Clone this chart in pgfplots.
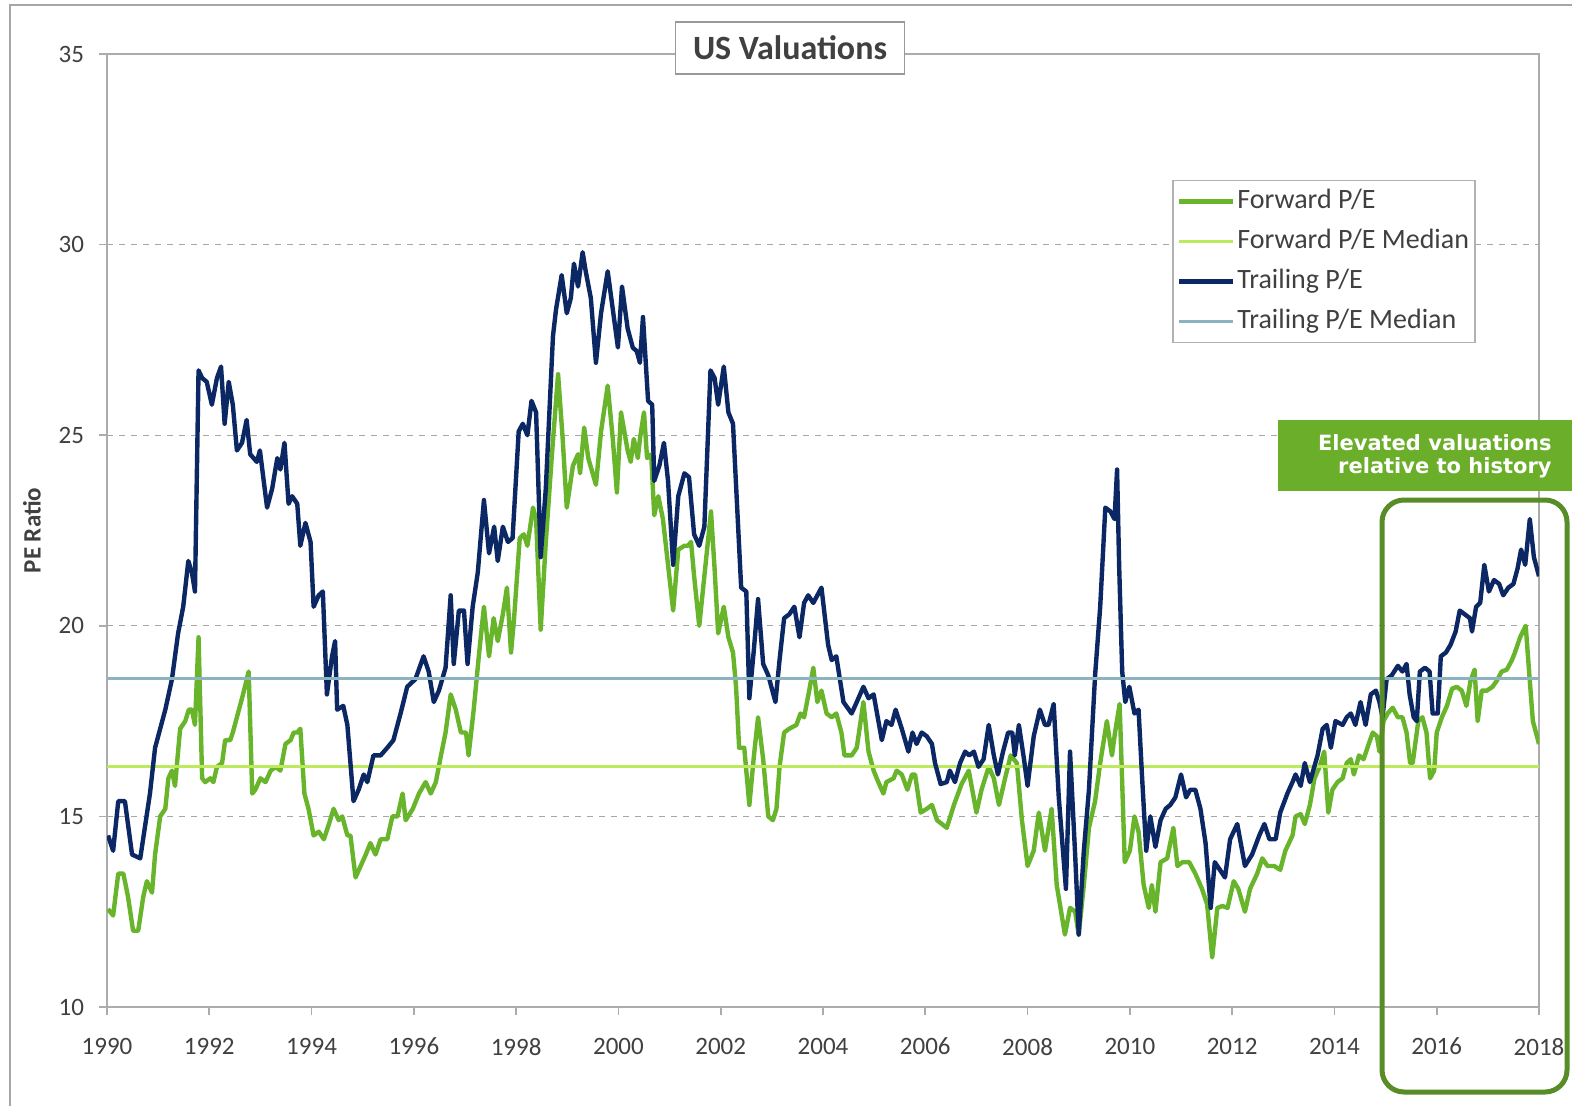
\documentclass[border=0pt]{standalone}
\usepackage{pgfplots}
\pgfplotsset{compat=1.18}
\usepackage{pgfplotstable}
\usepackage{fontspec}
\setmainfont{Carlito}
\newfontfamily\verd{DejaVu Sans}
\definecolor{fwd}{RGB}{104,180,42}
\definecolor{fwdmed}{RGB}{188,234,92}
\definecolor{trail}{RGB}{12,40,100}
\definecolor{trailmed}{RGB}{140,180,192}
\definecolor{annot}{RGB}{106,174,42}
\definecolor{frame}{RGB}{88,140,38}
\definecolor{txt}{RGB}{64,64,64}

\pgfplotstableread{
x y
1990.02 14.5
1990.12 14.1
1990.22 15.4
1990.35 15.4
1990.49 14.0
1990.65 13.9
1990.84 15.6
1990.94 16.8
1991.14 17.8
1991.27 18.6
1991.39 19.8
1991.49 20.5
1991.59 21.7
1991.66 21.4
1991.72 20.9
1991.79 26.7
1991.86 26.5
1991.95 26.4
1992.05 25.8
1992.15 26.5
1992.23 26.8
1992.30 25.3
1992.38 26.4
1992.46 25.8
1992.54 24.6
1992.64 24.8
1992.73 25.4
1992.80 24.5
1992.93 24.3
1992.99 24.6
1993.13 23.1
1993.23 23.6
1993.33 24.4
1993.39 24.1
1993.47 24.8
1993.55 23.2
1993.62 23.4
1993.72 23.2
1993.78 22.1
1993.88 22.7
1993.98 22.2
1994.04 20.5
1994.14 20.8
1994.22 20.9
1994.30 18.2
1994.40 19.2
1994.46 19.6
1994.50 17.8
1994.62 17.9
1994.70 17.4
1994.82 15.4
1994.92 15.7
1995.02 16.1
1995.09 15.9
1995.21 16.6
1995.35 16.6
1995.48 16.8
1995.60 17.0
1995.74 17.7
1995.87 18.4
1996.03 18.6
1996.19 19.2
1996.29 18.8
1996.39 18.0
1996.49 18.3
1996.62 18.9
1996.72 20.8
1996.78 19.0
1996.88 20.4
1996.98 20.4
1997.05 19.0
1997.15 20.5
1997.25 21.4
1997.37 23.3
1997.47 21.9
1997.57 22.6
1997.64 21.7
1997.74 22.6
1997.84 22.2
1997.93 22.3
1998.05 25.1
1998.13 25.3
1998.22 25.0
1998.30 25.9
1998.39 25.6
1998.48 21.8
1998.58 23.6
1998.72 27.6
1998.78 28.3
1998.89 29.2
1998.99 28.2
1999.07 28.6
1999.13 29.5
1999.21 28.9
1999.30 29.8
1999.36 29.3
1999.46 28.6
1999.56 26.9
1999.66 28.2
1999.79 29.3
1999.89 28.3
1999.99 27.3
2000.07 28.9
2000.18 27.8
2000.28 27.3
2000.36 27.2
2000.42 26.9
2000.48 28.1
2000.58 25.9
2000.66 25.8
2000.70 23.8
2000.80 24.2
2000.89 24.8
2000.97 23.8
2001.07 21.6
2001.17 23.4
2001.29 24.0
2001.38 23.9
2001.48 22.4
2001.58 22.1
2001.68 22.6
2001.80 26.7
2001.88 26.5
2001.95 25.8
2002.06 26.8
2002.15 25.6
2002.24 25.3
2002.40 21.0
2002.50 20.9
2002.56 18.1
2002.65 19.4
2002.73 20.7
2002.83 19.0
2002.93 18.7
2003.07 18.0
2003.15 19.1
2003.24 20.2
2003.34 20.3
2003.44 20.5
2003.54 19.7
2003.63 20.6
2003.71 20.8
2003.81 20.6
2003.97 21.0
2004.10 19.5
2004.17 19.1
2004.26 19.2
2004.40 18.0
2004.56 17.7
2004.66 18.0
2004.79 18.4
2004.89 18.1
2004.99 18.2
2005.15 17.0
2005.24 17.5
2005.34 17.4
2005.42 17.8
2005.54 17.3
2005.67 16.7
2005.75 17.2
2005.83 16.9
2005.93 17.2
2006.03 17.1
2006.13 16.9
2006.19 16.4
2006.30 15.85
2006.42 15.9
2006.48 16.2
2006.58 15.9
2006.68 16.4
2006.78 16.7
2006.86 16.6
2006.95 16.7
2007.04 16.3
2007.14 16.5
2007.24 17.4
2007.34 16.6
2007.42 16.1
2007.52 16.7
2007.62 17.2
2007.70 17.2
2007.75 16.6
2007.83 17.4
2007.93 16.5
2008.00 15.8
2008.12 17.1
2008.24 17.8
2008.34 17.4
2008.41 17.4
2008.51 17.95
2008.61 15.5
2008.75 13.1
2008.83 16.7
2008.93 14.0
2009.00 11.9
2009.10 14.1
2009.20 15.7
2009.32 18.7
2009.42 20.5
2009.52 23.1
2009.62 23.0
2009.70 22.8
2009.75 24.1
2009.79 21.6
2009.85 18.8
2009.91 18.0
2009.99 18.4
2010.09 17.7
2010.17 17.8
2010.24 16.0
2010.32 14.1
2010.40 15.0
2010.50 14.2
2010.60 14.9
2010.70 15.2
2010.79 15.3
2010.89 15.5
2011.00 16.1
2011.10 15.5
2011.18 15.7
2011.28 15.7
2011.38 15.2
2011.48 14.3
2011.58 12.6
2011.66 13.8
2011.76 13.6
2011.86 13.4
2011.96 14.4
2012.10 14.8
2012.25 13.7
2012.39 14.0
2012.53 14.5
2012.63 14.8
2012.73 14.4
2012.85 14.4
2012.94 15.1
2013.08 15.6
2013.18 15.9
2013.24 16.1
2013.34 15.8
2013.42 16.4
2013.52 15.9
2013.67 16.6
2013.77 17.3
2013.85 17.4
2013.93 16.8
2014.02 17.5
2014.16 17.4
2014.24 17.6
2014.32 17.7
2014.41 17.4
2014.51 18.0
2014.61 17.4
2014.71 18.2
2014.81 18.3
2014.88 18.0
2014.94 17.6
2015.02 18.6
2015.12 18.7
2015.24 18.95
2015.33 18.8
2015.41 19.0
2015.47 18.2
2015.55 17.6
2015.61 17.5
2015.67 18.8
2015.77 18.9
2015.86 18.8
2015.92 17.7
2016.02 17.7
2016.08 19.2
2016.18 19.3
2016.27 19.5
2016.37 19.85
2016.45 20.4
2016.55 20.3
2016.65 20.2
2016.69 19.85
2016.77 20.5
2016.85 20.6
2016.93 21.6
2017.02 20.9
2017.12 21.2
2017.22 21.1
2017.30 20.8
2017.40 21.0
2017.50 21.1
2017.58 21.5
2017.65 22.0
2017.73 21.6
2017.82 22.8
2017.90 21.8
2018.00 21.3
}\trailing

\pgfplotstableread{
x y
1990.02 12.57
1990.12 12.4
1990.22 13.5
1990.32 13.5
1990.41 12.9
1990.51 12.0
1990.61 12.0
1990.71 12.9
1990.78 13.3
1990.88 13.0
1990.94 14.0
1991.04 15.0
1991.14 15.2
1991.20 16.0
1991.27 16.2
1991.33 15.8
1991.43 17.3
1991.53 17.5
1991.60 17.8
1991.66 17.8
1991.72 17.4
1991.79 19.7
1991.86 16.0
1991.92 15.9
1992.02 16.0
1992.08 15.9
1992.15 16.3
1992.25 16.4
1992.31 17.0
1992.41 17.0
1992.46 17.2
1992.56 17.7
1992.66 18.2
1992.77 18.8
1992.84 15.6
1992.90 15.7
1993.00 16.0
1993.10 15.9
1993.20 16.2
1993.30 16.3
1993.39 16.2
1993.49 16.9
1993.59 17.0
1993.65 17.2
1993.72 17.2
1993.78 17.3
1993.86 15.6
1993.94 15.2
1994.04 14.5
1994.14 14.6
1994.24 14.4
1994.34 14.8
1994.43 15.2
1994.53 14.9
1994.60 15.0
1994.70 14.5
1994.76 14.5
1994.86 13.4
1994.96 13.7
1995.06 14.0
1995.15 14.3
1995.25 14.0
1995.35 14.4
1995.48 14.4
1995.58 15.0
1995.68 15.0
1995.78 15.6
1995.84 14.9
1995.98 15.2
1996.10 15.6
1996.23 15.9
1996.33 15.6
1996.43 15.9
1996.53 16.6
1996.62 17.2
1996.72 18.2
1996.82 17.8
1996.92 17.2
1997.02 17.2
1997.07 16.6
1997.17 17.8
1997.27 19.2
1997.37 20.5
1997.47 19.2
1997.56 20.2
1997.64 19.6
1997.74 20.3
1997.82 21.0
1997.90 19.3
1997.96 20.2
1998.07 22.3
1998.15 22.4
1998.22 22.1
1998.33 23.1
1998.39 22.8
1998.48 19.9
1998.58 22.2
1998.70 24.5
1998.82 26.6
1998.91 24.9
1998.99 23.1
1999.11 24.2
1999.21 24.5
1999.25 24.0
1999.33 25.2
1999.41 24.4
1999.56 23.7
1999.66 25.1
1999.79 26.3
1999.89 24.9
1999.97 23.5
2000.05 25.6
2000.18 24.6
2000.24 24.3
2000.30 24.9
2000.38 24.4
2000.42 24.9
2000.50 25.6
2000.56 24.4
2000.64 24.5
2000.70 22.9
2000.78 23.4
2000.87 22.8
2000.97 21.6
2001.07 20.4
2001.17 22.0
2001.29 22.1
2001.36 22.1
2001.42 22.2
2001.48 21.3
2001.58 20.0
2001.68 21.3
2001.81 23.0
2001.88 21.5
2001.95 19.8
2002.06 20.5
2002.15 19.7
2002.24 19.3
2002.30 18.4
2002.36 16.8
2002.46 16.8
2002.56 15.3
2002.65 16.6
2002.73 17.6
2002.83 16.5
2002.93 15.0
2003.02 14.9
2003.09 15.2
2003.15 16.3
2003.24 17.2
2003.34 17.3
2003.48 17.4
2003.56 17.7
2003.63 17.6
2003.73 18.3
2003.81 18.9
2003.89 18.0
2003.97 18.3
2004.07 17.7
2004.17 17.6
2004.26 17.7
2004.36 17.2
2004.42 16.6
2004.56 16.6
2004.66 16.8
2004.79 18.0
2004.89 16.7
2004.99 16.2
2005.05 16.0
2005.18 15.6
2005.24 15.9
2005.38 16.0
2005.44 16.2
2005.54 16.1
2005.65 15.7
2005.74 16.1
2005.80 16.1
2005.91 15.1
2006.03 15.2
2006.13 15.3
2006.23 14.9
2006.42 14.7
2006.56 15.3
2006.71 15.85
2006.85 16.2
2007.00 15.1
2007.10 15.7
2007.24 16.3
2007.34 16.0
2007.44 15.3
2007.56 16.0
2007.67 16.6
2007.79 16.4
2007.89 14.9
2008.00 13.7
2008.12 14.1
2008.22 15.1
2008.34 14.1
2008.47 15.2
2008.57 13.2
2008.73 11.9
2008.83 12.6
2008.93 12.5
2009.00 11.9
2009.10 13.2
2009.20 14.7
2009.32 15.4
2009.42 16.4
2009.55 17.5
2009.65 16.6
2009.71 17.2
2009.80 17.95
2009.90 13.8
2010.00 14.1
2010.09 15.0
2010.17 14.6
2010.27 13.2
2010.37 12.6
2010.43 13.2
2010.50 12.5
2010.60 13.8
2010.73 13.9
2010.85 14.7
2010.93 13.7
2011.03 13.8
2011.16 13.8
2011.28 13.5
2011.41 13.1
2011.51 12.7
2011.61 11.3
2011.71 12.6
2011.81 12.65
2011.91 12.6
2012.03 13.3
2012.12 13.1
2012.25 12.5
2012.35 13.1
2012.49 13.5
2012.59 13.9
2012.69 13.7
2012.82 13.7
2012.94 13.6
2013.04 14.1
2013.18 14.5
2013.24 15.0
2013.34 15.06
2013.42 14.8
2013.52 15.3
2013.61 16.0
2013.71 16.3
2013.80 16.7
2013.88 15.1
2013.96 15.7
2014.06 15.9
2014.16 16.0
2014.24 16.4
2014.32 16.5
2014.38 16.1
2014.48 16.6
2014.57 16.5
2014.67 16.9
2014.75 17.2
2014.83 17.1
2014.88 16.7
2014.96 17.5
2015.04 17.7
2015.14 17.85
2015.24 17.6
2015.33 17.6
2015.41 17.2
2015.48 16.4
2015.53 16.4
2015.64 17.5
2015.72 17.6
2015.80 17.2
2015.87 16.0
2015.95 16.2
2016.00 17.2
2016.10 17.6
2016.20 17.9
2016.30 18.35
2016.39 18.4
2016.49 18.3
2016.58 17.9
2016.66 18.55
2016.74 18.85
2016.80 17.5
2016.88 18.3
2016.98 18.3
2017.09 18.4
2017.17 18.55
2017.27 18.8
2017.37 18.85
2017.47 19.1
2017.53 19.3
2017.63 19.7
2017.74 20.0
2017.82 18.55
2017.88 17.5
2018.00 16.9
}\forward

\begin{document}
\begin{tikzpicture}
\useasboundingbox (0,0) rectangle (786pt,552.5pt);
% outer frame
\draw[gray!70, line width=0.8pt] (5pt,-10pt) -- (5pt,550pt) -- (800pt,550pt);
\begin{axis}[
  at={(53.5pt,49pt)}, anchor=south west,
  scale only axis, width=716pt, height=476.5pt,
  xmin=1990, xmax=2018, ymin=10, ymax=35,
  xtick={1990,1992,...,2018}, ytick={10,15,...,35},
  axis line style={draw=gray!65, line width=0.8pt},
  tick style={draw=gray!65, line width=0.8pt},
  tick align=outside, major tick length=4pt,
  xtick pos=bottom, ytick pos=left,
  ymajorgrids, grid style={dashed, gray!70, line width=0.6pt},
  /pgf/number format/assume math mode=true,
  /pgf/number format/1000 sep={},
  ticklabel style={font=\fontsize{12.5}{14}\selectfont, text=txt},
  xticklabel style={yshift=-8pt},
  yticklabel style={xshift=-4pt},
  ylabel={\bfseries PE Ratio},
  ylabel style={font=\fontsize{12.5}{14}\selectfont, text=txt, yshift=2pt},
  legend cell align=left,
  legend style={at={(0.744,0.868)}, anchor=north west, draw=gray!60, line width=0.6pt,
    font=\fontsize{14}{16}\selectfont, text=txt, inner xsep=2pt, inner ysep=3pt,
    row sep=5pt,
    nodes={inner sep=1pt, text height=10pt, text depth=3pt}},
  legend image code/.code={\draw[#1] (0pt,0pt) -- (27pt,0pt);},
]
\addplot[fwd, line width=2.2pt, line join=round] table[x=x,y=y] {\forward};
\addlegendentry{Forward P/E}
\addplot[fwdmed, line width=1.6pt] coordinates {(1990,16.3) (2018,16.3)};
\addlegendentry{Forward P/E Median}
\addplot[trail, line width=2.2pt, line join=round] table[x=x,y=y] {\trailing};
\addlegendentry{Trailing P/E}
\addplot[trailmed, line width=1.6pt] coordinates {(1990,18.62) (2018,18.62)};
\addlegendentry{Trailing P/E Median}
\end{axis}
% title
\node[draw=gray!80, line width=0.8pt, fill=white, minimum width=114.5pt, minimum height=26pt,
  inner sep=0pt, font=\fontsize{17}{19}\selectfont\bfseries, text=txt] at (395pt,528.5pt) {US Valuations};
% annotation
\fill[annot] (639pt,307pt) rectangle (800pt,342.5pt);
\node[anchor=east, text=white, font=\verd\bfseries\fontsize{10.5}{12}\selectfont, inner sep=0pt] at (776pt,331pt) {Elevated valuations};
\node[anchor=east, text=white, font=\verd\bfseries\fontsize{10.5}{12}\selectfont, inner sep=0pt] at (776pt,318.5pt) {relative to history};
\draw[frame, line width=2.5pt, rounded corners=11pt] (691pt,6.5pt) rectangle (783.5pt,302.5pt);
\end{tikzpicture}
\end{document}
